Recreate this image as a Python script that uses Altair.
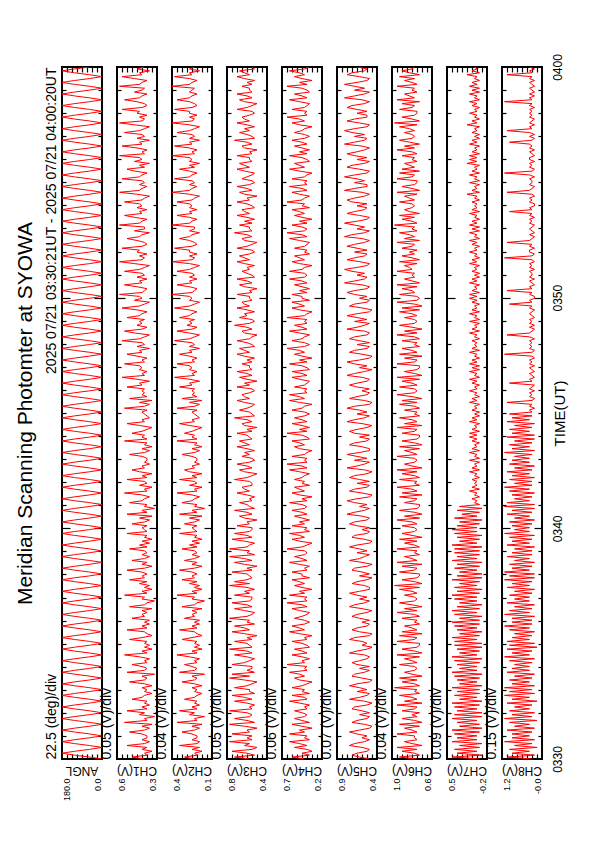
import altair as alt
import pandas as pd

# ---------------- data ----------------
panel_names = ["ANGL", "CH1(V)", "CH2(V)", "CH3(V)", "CH4(V)", "CH5(V)", "CH6(V)", "CH7(V)", "CH8(V)"]
div_labels = ["22.5 (deg)/div", "0.05 (V)/div", "0.04 (V)/div", "0.05 (V)/div", "0.06 (V)/div",
              "0.07 (V)/div", "0.04 (V)/div", "0.09 (V)/div", "0.15 (V)/div"]
hi_labels = ["180.0", "0.6", "0.4", "0.8", "0.7", "0.9", "1.0", "0.5", "1.2"]
lo_labels = ["0.0", "0.3", "0.1", "0.4", "0.2", "0.4", "0.6", "-0.2", "-0.0"]
time_tick_values = [0, 10, 20, 30]
time_tick_labels = ["0330", "0340", "0350", "0400"]
title_text = "Meridian Scanning Photomter at SYOWA"
period_text = "2025 07/21 03:30:21UT - 2025 07/21 04:00:20UT"
time_title = "TIME(UT)"

# One sample every 5 s from 03:30 to 04:00 (12 per minute, one string per minute).
# Each character is the level across the panel in half divisions:
# "0" = low edge (right side) ... "G" = high edge (left side).
LEVELS = "0123456789ABCDEFG"

angl_lv = ["05BGB505BGB5"] * 30
ch1_lv = ["5A45264C5364", "46B5362D4517", "5C46354A6525", "4625B5461C54", "6A4537D46253",
          "54B6245C4635", "3A56462B5416", "5D4625374B56", "46C5264A5364", "5B4736254C45",
          "64A5372C4615", "4B6536D45274", "5C4627A56354", "46B536254D46", "5A6427C56345",
          "64D5372B4656", "5C6738E56476", "7D5648C67385", "6E7539D64867", "5C7648E75396",
          "7F6548D67485", "6D7539F65748", "7E6458C76395", "5F7649D67486", "7D6538F76475",
          "6E7649C57396", "7F5648E67385", "6D7539F65748", "7E6458D76496", "5F7649E67385"]
ch2_lv = ["7B67485D6586", "68C7584E6739", "7D68576B7647", "6847C7683D76", "8B6759E68475",
          "76C8467D6857", "5B78684C7638", "7E6847596C78", "68D7486B7586", "7C6958476D67",
          "86B7594D6837", "6C8758E67496", "7D6849B78576", "68C758476E68", "7B8649D78567",
          "86E7594C6878", "7D8959F78698", "9E7869D89597", "8F9759E86A89", "7D9869F97598",
          "9G8769E89697", "8E9759G87969", "9F8679D98597", "7G9869E89698", "9E8759G98697",
          "8F9869D79598", "9G7869F89597", "8E9759G87969", "9F8679E98698", "7G9869F89597"]
ch3_lv = ["7D58E6497F68", "6E7849F58D76", "8F6758D69E57", "7D8649F7E586", "6E9758D68F67",
          "8D6849E79D58", "7F8659D68E76", "6D7958F7D867", "8E6849D69F58", "7F8759E68D76",
          "6C7849B68D57", "8B6758C79A66", "7D8649B68C75", "6A7958C79B67", "8C6849A68D56",
          "7B8659C79A75", "6C7948B68C67", "7A6859C79B56", "8C7649A68D75", "6B8958C79A67",
          "7C6749B68C56", "8A7859C79B75", "6C8649A68D67", "7B6958C79A56", "8C7849B68C75",
          "6A8659C79B67", "7C6749A68D56", "8B7958C79A75", "6C8649B68C67", "7A6859C79B56"]
ch4_lv = ["7C5846B69D57", "6D7948C58B76", "8B6759D67C58", "7C8649B79D67", "6E7858C68B56",
          "8C6749D79C75", "7B8659C68E67", "6D7948B79C58", "8C6759D68B76", "7E8649C79D57",
          "6C7958B68C76", "8D6849C79B58", "7B8759D68E67", "6C7649B79C56", "8E6958C68B75",
          "7C8749D79D67", "6B7659C68C56", "8D6948B79E75", "7C8759D68B67", "6E7649C79C58",
          "8C6958B68D76", "7D8749C79B57", "6B7659D68E76", "8C6948B79C58", "7E8759C68D67",
          "6C7649D79B56", "8D6958B68C75", "7B8749C79E67", "6C7659D68B56", "8E6948B79D75"]
ch5_lv = ["37A8436B9536", "48B7325A8437", "36A9425B7438", "47B8326A9537", "38A7435B8426",
          "46B9327A8436", "37A8426B9537", "48B7335A8427", "36A9426B7538", "47B8325A9436",
          "38B9436C9537", "49C8326B9438", "37B9425C8539", "48C7336B9437", "39B8426C9538",
          "47C9325B8436", "38B8436C9527", "49C7326B9438", "37B9435C8539", "48C8326B9437",
          "49C9436D9548", "5AD8437C9549", "48C9536DA538", "59D8437C9548", "4AC9536D9449",
          "58D9437CA538", "49C8536D9549", "5AD9437C9448", "48CA536D9539", "59D8437CA548"]
ch6_lv = ["6D57C6E48B67", "7E68B5D47C68", "5C76E4B68D57", "6F57C6D48B76", "7D68B5E47C65",
          "5E76D4C68B57", "6C57E6B48D76", "7B68D5F47C65", "5D76C4E68B57", "6E57B6D48C76",
          "7C68E5B47D65", "5B76D4C68E57", "6D57C6E48B76", "7E68B5D47C65", "5C76E4B68D57",
          "6B57D6C48E76", "7D68C5E47B65", "5E76B4D68C57", "6C57E6B48D76", "7B68D5C47E65",
          "6D78C6E58B78", "7E89B6D58C79", "6C87E5B79D68", "7F68C7D59B87", "8D79B6E58C76",
          "6E87D5C79B68", "7C68E7B59D87", "8B79D6F58C76", "6D87C5E79B68", "7E68B7D59C87"]
ch7_lv = ["3E2C4D3B2E4C", "4D3E2B3C4E2D", "2C4D3E2B4D3C", "3E2B4C3D2E4B", "4C3D2E4B3C2D",
          "2D4E3B2C4D3E", "3B2D4E3C2B4D", "4E3C2D4B3E2C", "2B4D3C2E4C3D", "3D2E4B3C2D4E",
          "4C3B2D4A3C2B", "354635473645", "463547364537", "354736453647", "473645374635",
          "364537463547", "453647354736", "374635473645", "463547364537", "354736453647",
          "473645374635", "364537463547", "453647354736", "374635473645", "463548364537",
          "354736453847", "473645374635", "364538463547", "453647354736", "374635483645"]
ch8_lv = ["4E3C5D2B4F3C", "5C4E3B5D2F4C", "3D5B4E2C5F3D", "4F3C5D4B3E5C", "5B4D3F5C4E2D",
          "3E5C4B3D5F4C", "4C3F5D4B3E5B", "5D4B3E5C4F3D", "3F5C4D3B5E4C", "4B3E5C4D3F5B",
          "5C4D3B5E4C3F", "3E5B4C3D5F4B", "4D3C5E4B3D5C", "5B4F3C5D4B3E", "3C5D4B3E5C4D",
          "45354E435453", "543D45345345", "354534F43545", "4535E5435354", "53454354D453",
          "354E45345354", "45354534F435", "5354E5435345", "43545354D453", "354534E54354",
          "4535F4354535", "53453545D435", "35E453543545", "45354F453534", "5345354E4535"]
series_lv = [angl_lv, ch1_lv, ch2_lv, ch3_lv, ch4_lv, ch5_lv, ch6_lv, ch7_lv, ch8_lv]

# ---------------- chart ----------------
FONT = "Liberation Sans"
W, H = 40, 692
minor_t = [m for m in range(1, 30) if m % 10 != 0]
major_t = [10, 20]


def tick_axis(orient, values, size, **extra):
    return alt.Axis(orient=orient, values=values, labels=False, domain=False, grid=False,
                    ticks=True, tickSize=size, offset=-size, tickColor="black", tickWidth=1.2,
                    **extra)


def title_only_axis(orient, text, **extra):
    return alt.Axis(orient=orient, labels=False, ticks=False, domain=False, grid=False,
                    title=text, titleFont=FONT, titleFontWeight="normal", titleColor="black",
                    **extra)


def make_panel(k):
    lo, hi = float(lo_labels[k]), float(hi_labels[k])
    chars = "".join(series_lv[k])
    n = len(chars)
    levels = [LEVELS.index(c) for c in chars]
    df = pd.DataFrame({"t": [30.0 * i / (n - 1) for i in range(n)],
                       "v": [lo + d / 16.0 * (hi - lo) for d in levels],
                       "i": list(range(n))})
    xs = alt.Scale(domain=[lo, hi], reverse=True, nice=False, zero=False)
    ys = alt.Scale(domain=[0, 30], nice=False, zero=False)
    base = alt.Chart(df)
    step = (hi - lo) / 8.0
    inner = [lo + j * step for j in range(1, 8)]

    def lay(xaxis, yaxis, visible=False):
        if visible:
            m = base.mark_line(color="#ff0000", strokeWidth=1, clip=True)
        else:
            m = base.mark_line(strokeOpacity=0, clip=True)
        return m.encode(
            x=alt.X("v:Q", scale=xs, axis=xaxis),
            y=alt.Y("t:Q", scale=ys, axis=yaxis),
            order=alt.Order("i:Q"))

    left_minor = tick_axis("left", minor_t, 4, title=div_labels[k], titleAnchor="start",
                           titleAngle=270, titleBaseline="bottom", titlePadding=3,
                           titleFontSize=14, titleFont=FONT, titleFontWeight="normal",
                           titleColor="black")
    if k == 0:
        left_major = tick_axis("left", major_t, 8, title=period_text, titleAnchor="end",
                               titleAngle=270, titleBaseline="bottom", titlePadding=3,
                               titleFontSize=14, titleFont=FONT, titleFontWeight="normal",
                               titleColor="black")
    else:
        left_major = tick_axis("left", major_t, 8, title=None)
    right_minor = tick_axis("right", minor_t, 4, title=None)
    right_major = tick_axis("right", major_t, 8, title=None)
    bottom_ticks = tick_axis("bottom", inner, 5, title=None)
    top_ticks = tick_axis("top", inner, 5, title=None)
    bottom_labels = alt.Axis(
        orient="bottom", values=[lo, hi], ticks=False, domain=False, grid=False,
        labelAngle=270, labelAlign="right", labelPadding=19, labelFontSize=9,
        labelFont=FONT, labelColor="black", labelFlush=False, labelOverlap=False,
        labelExpr=f"datum.value == {hi} ? '{hi_labels[k]}' : '{lo_labels[k]}'",
        labelBaseline={"condition": {"test": f"datum.value == {hi}", "value": "top"},
                       "value": "bottom"},
        title=None)

    name_df = pd.DataFrame({"name": [panel_names[k]]})
    name_text = alt.Chart(name_df).mark_text(
        angle=180, baseline="bottom", align="center", fontSize=12, font=FONT, color="black"
    ).encode(text="name:N", x=alt.value(W / 2), y=alt.value(H + 5))

    layers = [
        lay(bottom_ticks, left_minor, visible=True),
        lay(top_ticks, right_minor),
        lay(bottom_labels, left_major),
        lay(None, right_major),
    ]
    if k == 0:
        layers.append(lay(None, title_only_axis("left", title_text, titleAngle=270,
                                                 titleBaseline="bottom", titlePadding=27,
                                                 titleFontSize=21)))
    if k == len(panel_names) - 1:
        expr = " : ".join(f"datum.value == {v} ? '{s}'"
                          for v, s in zip(time_tick_values, time_tick_labels)) + " : ''"
        time_axis = alt.Axis(orient="right", values=time_tick_values, ticks=False, domain=False,
                             grid=False, labelAngle=270, labelAlign="center", labelBaseline="top",
                             labelPadding=10, labelFontSize=12, labelFont=FONT, labelColor="black",
                             labelFlush=False, labelOverlap=False, labelExpr=expr, title=None)
        layers.append(lay(None, time_axis))
        layers.append(lay(None, title_only_axis("right", time_title, titleAngle=270,
                                                 titleBaseline="top", titlePadding=10,
                                                 titleFontSize=15)))
    layers.append(name_text)
    return alt.layer(*layers).resolve_axis(x="independent", y="independent").properties(
        width=W, height=H)


panels = [make_panel(k) for k in range(len(panel_names))]
chart = alt.hconcat(*panels, spacing=15, bounds="flush").properties(
    padding={"left": 4, "top": 44, "right": 5, "bottom": 5}
).configure_view(stroke="black", strokeWidth=2)

chart.save("out.html", embed_options={"renderer": "svg", "actions": False})
